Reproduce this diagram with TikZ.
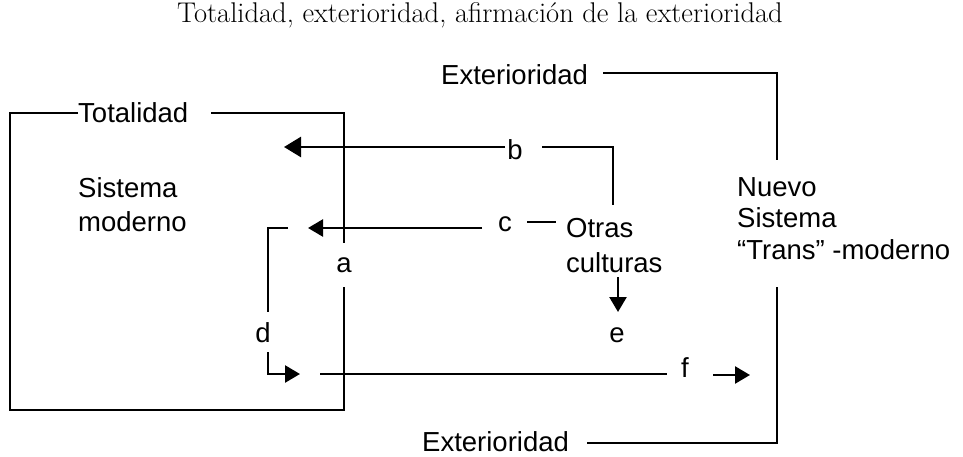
\documentclass[tikz,border=0pt]{standalone}
\usepackage{fontspec}
\setsansfont{Liberation Sans}
\usetikzlibrary{arrows.meta}
\begin{document}
\begin{tikzpicture}[x=1pt,y=-1pt,
  lbl/.style={font=\sffamily\fontsize{27.5}{32}\selectfont, inner sep=0pt, text height=19.5pt, text depth=0pt},
  xlbl/.style={lbl, text height=14pt},
  ln/.style={line width=2.5pt},
  arr/.style={ln, -{Triangle[length=15pt,width=17pt]}},
  bigarr/.style={ln, -{Triangle[length=17pt,width=20pt]}}
]
\useasboundingbox (0,0) rectangle (963,457);
\node[font=\fontsize{28.5}{32}\selectfont, inner sep=0pt] (title) at (480,15) {Totalidad, exterioridad, afirmación de la exterioridad};

% left box
\node[lbl, anchor=west] (tot) at (78,113) {Totalidad};
\node[lbl, anchor=west] (sis1) at (78,188) {Sistema};
\node[lbl, anchor=west] (mod1) at (78,222) {moderno};
\node[xlbl, minimum height=44pt] (a) at (344,265) {a};
\coordinate (L1) at (10,113);
\coordinate (L2) at (10,410);
\coordinate (L3) at (344,410);
\coordinate (L4) at (344,113);
\coordinate (T1) at (211,113);
\draw[ln] (tot.west) -- (L1) -- (L2) -- (L3) -- (a.south);
\draw[ln] (T1) -- (L4) -- (a.north);

% b
\node[lbl] (b) at (515,150) {b};
\coordinate (b1) at (505,147);
\coordinate (btip) at (284,147);
\coordinate (b2) at (542,147);
\coordinate (b3) at (613,147);
\coordinate (b4) at (613,205);
\draw[bigarr] (b1) -- (btip);
\draw[ln] (b2) -- (b3) -- (b4);

% c and Otras culturas
\node[xlbl] (c) at (505,224) {c};
\node[lbl, anchor=west] (otras) at (566,228) {Otras};
\node[lbl, anchor=west] (cult) at (566,263) {culturas};
\coordinate (c1) at (482,228);
\coordinate (ctip) at (308,228);
\coordinate (c2) at (527,222);
\coordinate (c3) at (556,222);
\draw[arr] (c1) -- (ctip);
\draw[ln] (c2) -- (c3);

% e
\node[xlbl] (e) at (617,335) {e};
\coordinate (e1) at (618,277);
\coordinate (e2) at (618,312);
\draw[arr] (e1) -- (e2);

% d
\node[lbl] (d) at (263,333) {d};
\coordinate (d0) at (288,228);
\coordinate (d1) at (268,228);
\coordinate (d2) at (268,312);
\coordinate (d3) at (268,352);
\coordinate (d4) at (268,374);
\coordinate (dtip) at (300,374);
\draw[ln] (d0) -- (d1) -- (d2);
\draw[arr] (d3) -- (d4) -- (dtip);

% f
\node[lbl] (f) at (685,368) {f};
\coordinate (f0) at (320,374);
\coordinate (f1) at (667,374);
\coordinate (f2) at (713,375);
\coordinate (ftip) at (750,375);
\draw[ln] (f0) -- (f1);
\draw[arr] (f2) -- (ftip);

% right box
\node[lbl, anchor=west] (ext1) at (441,75) {Exterioridad};
\node[lbl, anchor=west] (ext2) at (422,442) {Exterioridad};
\node[lbl, anchor=west] (nuevo) at (737,187) {Nuevo};
\node[lbl, anchor=west] (sis2) at (737,218) {Sistema};
\node[lbl, anchor=west] (trans) at (737,250) {“Trans” -moderno};
\coordinate (R0) at (603,73);
\coordinate (R1) at (777,73);
\coordinate (R2) at (777,160);
\coordinate (R3) at (777,287);
\coordinate (R4) at (777,443);
\coordinate (R5) at (587,443);
\draw[ln] (R0) -- (R1) -- (R2);
\draw[ln] (R3) -- (R4) -- (R5);
\end{tikzpicture}
\end{document}
